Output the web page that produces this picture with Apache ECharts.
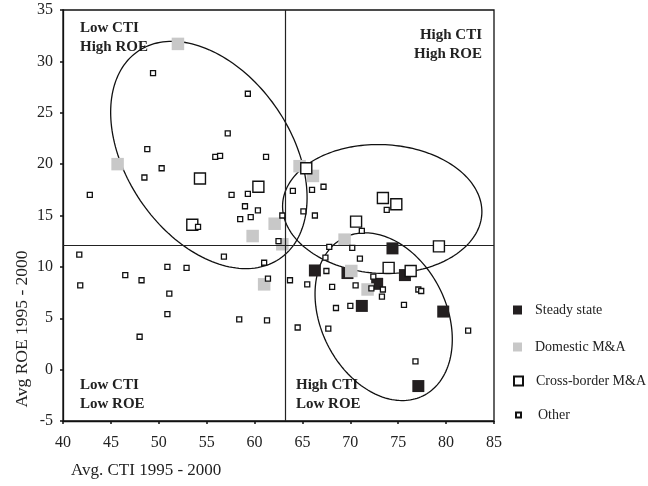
<!DOCTYPE html>
<html>
<head>
<meta charset="utf-8">
<script src="https://cdn.jsdelivr.net/npm/echarts@6/dist/echarts.min.js"></script>
<style>html,body{margin:0;padding:0;background:#fff;}#chart{width:648px;height:486px;}</style>
</head>
<body>
<div id="chart"></div>
<script>
// ---- Data (Avg. CTI, Avg. ROE) ----
const xTicks = [40, 45, 50, 55, 60, 65, 70, 75, 80, 85];
const yTicks = [-5, 0, 5, 10, 15, 20, 25, 30, 35];
const seriesNames = ['Steady state', 'Domestic M&A', 'Cross-border M&A', 'Other'];
const quadrantLabels = ['Low CTI\nHigh ROE', 'High CTI\nHigh ROE', 'Low CTI\nLow ROE', 'High CTI\nLow ROE'];
const ctiThreshold = 63.25;
const roeThreshold = 12.1;

const steadyState = [
  [74.4, 11.8], [66.3, 9.65], [69.7, 9.4], [75.7, 9.2], [72.8, 8.35],
  [71.2, 6.2], [79.7, 5.65], [77.1, -1.6]
];
const domesticMA = [
  [52.0, 31.7], [45.7, 20.0], [64.7, 19.8], [66.1, 18.85], [62.1, 14.2],
  [59.8, 13.0], [62.9, 12.2], [69.4, 12.65], [70.1, 9.6], [71.8, 7.8], [61.0, 8.3]
];
const crossBorderMA = [
  [54.3, 18.6], [60.4, 17.8], [53.5, 14.1], [65.4, 19.6], [73.4, 16.7],
  [74.8, 16.1], [70.6, 14.4], [79.25, 12.0], [74.0, 9.9], [76.3, 9.6]
];
const other = [
  [49.4, 28.85], [59.3, 26.85], [57.2, 23.0], [48.8, 21.46], [55.9, 20.7],
  [56.4, 20.8], [61.2, 20.7], [50.3, 19.6], [48.5, 18.7], [42.8, 17.0],
  [59.3, 17.1], [57.6, 17.0], [59.0, 15.9], [60.35, 15.5], [59.6, 14.85],
  [58.5, 14.65], [54.1, 13.9], [62.5, 12.5], [41.7, 11.2], [56.8, 11.0],
  [61.0, 10.4], [50.9, 10.0], [52.9, 9.9], [46.5, 9.2], [48.2, 8.7],
  [61.4, 8.85], [41.8, 8.2], [51.1, 7.4], [50.9, 5.4], [58.4, 4.9],
  [61.3, 4.8], [48.0, 3.2], [64.0, 17.4], [66.0, 17.5], [67.2, 17.8],
  [73.8, 15.55], [65.1, 15.4], [66.3, 15.0], [62.9, 15.0], [71.2, 13.5],
  [67.8, 11.95], [70.2, 11.85], [67.4, 10.9], [71.0, 10.8], [67.5, 9.6],
  [72.4, 9.05], [72.2, 7.9], [73.4, 7.8], [73.3, 7.1], [63.7, 8.7],
  [65.5, 8.3], [68.1, 8.05], [70.55, 8.2], [77.1, 7.8], [77.4, 7.65],
  [68.5, 6.0], [70.0, 6.2], [75.6, 6.3], [64.5, 4.1], [67.7, 4.0],
  [82.3, 3.8], [76.8, 0.8]
];
// Cluster ellipses: centre (cti, roe) and two conjugate semi-axis vectors in data units
const ellipses = [
  [55.23, 20.89, 7.36, -10.12, -7.14, -4.46],
  [73.33, 15.63, 10.40, -0.455, -0.318, -6.26],
  [73.48, 5.15, 4.11, -7.70, -5.87, -2.70]
];

const FONT = '"Liberation Serif", "DejaVu Serif", serif';
const chart = echarts.init(document.getElementById('chart'), null, {renderer: 'canvas'});

function renderEllipse(params, api) {
  const cx = api.value(0), cy = api.value(1);
  const ux = api.value(2), uy = api.value(3), vx = api.value(4), vy = api.value(5);
  const pts = [];
  const n = 180;
  for (let i = 0; i <= n; i++) {
    const t = i / n * Math.PI * 2;
    pts.push(api.coord([cx + ux * Math.cos(t) + vx * Math.sin(t), cy + uy * Math.cos(t) + vy * Math.sin(t)]));
  }
  return {type: 'polyline', shape: {points: pts}, style: {stroke: '#111', lineWidth: 1.3, fill: null}};
}

function legendFor(name, left, top, size) {
  return {
    data: [name], left: left, top: top, orient: 'vertical', padding: 0,
    itemWidth: size, itemHeight: size, selectedMode: false, icon: 'rect',
    textStyle: {fontFamily: FONT, fontSize: 14, color: '#222', padding: [0, 0, 0, 22 - size - 5], lineHeight: 16}
  };
}

const quadText = (txt, x, y, align) => ({
  type: 'text', left: align === 'right' ? null : x, right: align === 'right' ? x : null, top: y,
  style: {text: txt, font: 'bold 15px ' + FONT, fill: '#222', lineHeight: 19, textAlign: align}
});

const option = {
  animation: false,
  backgroundColor: '#fff',
  grid: {left: 63, right: 154, top: 10, bottom: 65, show: true, borderColor: '#111', borderWidth: 1.3, backgroundColor: 'transparent'},
  xAxis: {
    type: 'value', min: xTicks[0], max: xTicks[xTicks.length - 1], interval: 5,
    splitLine: {show: false},
    axisLine: {show: true, onZero: false, lineStyle: {color: '#111', width: 1.3}},
    axisTick: {show: true, length: 3, lineStyle: {color: '#111', width: 1.5}},
    axisLabel: {fontFamily: FONT, fontSize: 16, color: '#222', margin: 14}
  },
  yAxis: {
    type: 'value', min: yTicks[0], max: yTicks[yTicks.length - 1], interval: 5,
    splitLine: {show: false},
    axisLine: {show: true, onZero: false, lineStyle: {color: '#111', width: 1.3}},
    axisTick: {show: true, length: 3, lineStyle: {color: '#111', width: 1.5}},
    axisLabel: {fontFamily: FONT, fontSize: 16, color: '#222', margin: 10}
  },
  legend: [
    legendFor(seriesNames[0], 513, 302, 9),
    legendFor(seriesNames[1], 513, 339, 9),
    legendFor(seriesNames[2], 513, 373, 9),
    legendFor(seriesNames[3], 515, 407, 5)
  ],
  graphic: [
    quadText(quadrantLabels[0], 80, 19, 'left'),
    quadText(quadrantLabels[1], 166, 26, 'right'),
    quadText(quadrantLabels[2], 80, 376, 'left'),
    quadText(quadrantLabels[3], 296, 376, 'left'),
    {type: 'text', left: 71, top: 462, style: {text: 'Avg. CTI 1995 - 2000', font: '17px ' + FONT, fill: '#222'}},
    {type: 'text', x: 22, y: 329, rotation: Math.PI / 2,
     style: {text: 'Avg ROE 1995 - 2000', font: '17.5px ' + FONT, fill: '#222', textAlign: 'center', textVerticalAlign: 'middle'}}
  ],
  series: [
    {
      type: 'custom', name: 'clusters', renderItem: renderEllipse, data: ellipses, silent: true, z: 1,
      encode: {x: 0, y: 1},
      markLine: {
        silent: true, symbol: 'none', animation: false,
        label: {show: false},
        lineStyle: {color: '#222', width: 1.2, type: 'solid'},
        data: [{xAxis: ctiThreshold}, {yAxis: roeThreshold}]
      }
    },
    {type: 'scatter', name: seriesNames[0], data: steadyState, symbol: 'rect', symbolSize: 12, z: 3,
     itemStyle: {color: '#231f20', borderColor: '#231f20', borderWidth: 0, opacity: 1}},
    {type: 'scatter', name: seriesNames[1], data: domesticMA, symbol: 'rect', symbolSize: 12.5, z: 4,
     itemStyle: {color: '#c8c8c8', borderWidth: 0, opacity: 1}},
    {type: 'scatter', name: seriesNames[2], data: crossBorderMA, symbol: 'rect', symbolSize: 11, z: 5,
     itemStyle: {color: '#fff', borderColor: '#111', borderWidth: 1.4, opacity: 1}},
    {type: 'scatter', name: seriesNames[3], data: other, symbol: 'rect', symbolSize: 5, z: 6,
     itemStyle: {color: '#fff', borderColor: '#111', borderWidth: 1.3, opacity: 1}}
  ]
};
chart.setOption(option);
</script>
</body>
</html>
